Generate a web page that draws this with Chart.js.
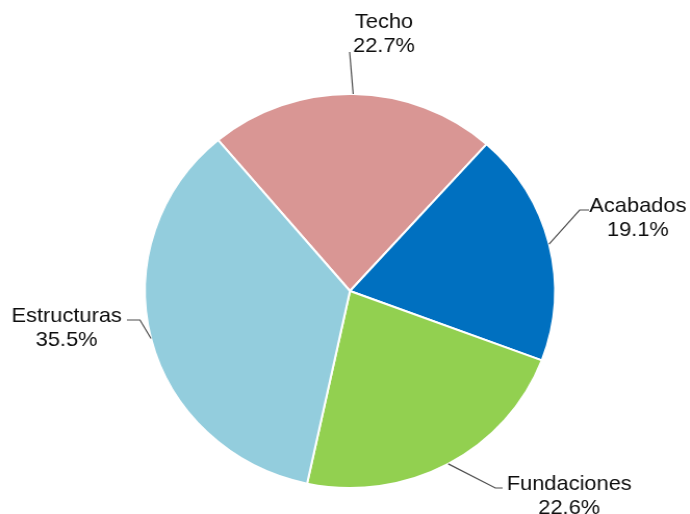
<!DOCTYPE html>
<html>
<head>
<meta charset="utf-8">
<script src="https://cdn.jsdelivr.net/npm/chart.js@4/dist/chart.umd.min.js"></script>
<style>
html,body{margin:0;padding:0;background:#fff;overflow:hidden;}
#wrap{width:690px;height:514px;position:relative;overflow:hidden;}
#c{position:absolute;left:0;top:0;transform:scaleX(1.0406);transform-origin:0 0;}
</style>
</head>
<body>
<div id="wrap"><canvas id="c" width="663" height="514"></canvas></div>
<script>
const categories = ["Techo", "Acabados", "Fundaciones", "Estructuras"];
const values = [22.7, 19.1, 22.6, 35.5];
const colors = ["#D99694", "#0070C0", "#92D050", "#93CDDD"];

// label layout (text center x, first baseline y, elbow point, line end point) in canvas coords
const labelLayout = [
  {tx: 369, ty: 28, elbow: null, end: [336, 52]},
  {tx: 613, ty: 212, elbow: [557, 210], end: [566, 210]},
  {tx: 547, ty: 490, elbow: [476, 488], end: [483, 488]},
  {tx: 64, ty: 322, elbow: [134.5, 320], end: [122, 320]}
];

const labelPlugin = {
  id: 'outLabels',
  afterDatasetsDraw(chart) {
    const ctx = chart.ctx;
    const meta = chart.getDatasetMeta(0);
    ctx.save();
    meta.data.forEach((arc, i) => {
      const p = arc.getProps(['x','y','startAngle','endAngle','outerRadius'], true);
      const mid = (p.startAngle + p.endAngle) / 2;
      const sx = p.x + Math.cos(mid) * p.outerRadius;
      const sy = p.y + Math.sin(mid) * p.outerRadius;
      const L = labelLayout[i];
      ctx.strokeStyle = '#4d4d4d';
      ctx.lineWidth = 1.2;
      ctx.beginPath();
      ctx.moveTo(sx, sy);
      if (L.elbow) ctx.lineTo(L.elbow[0], L.elbow[1]);
      ctx.lineTo(L.end[0], L.end[1]);
      ctx.stroke();
      ctx.fillStyle = '#0d0d0d';
      ctx.font = '21px "Liberation Sans", Arial, sans-serif';
      ctx.textAlign = 'center';
      ctx.textBaseline = 'alphabetic';
      ctx.fillText(categories[i], L.tx, L.ty);
      ctx.fillText(values[i].toFixed(1) + '%', L.tx, L.ty + 23.5);
    });
    ctx.restore();
  }
};

new Chart(document.getElementById('c'), {
  type: 'pie',
  data: {
    labels: categories,
    datasets: [{
      data: values,
      backgroundColor: colors,
      borderColor: '#ffffff',
      borderWidth: 2,
      radius: 197
    }]
  },
  options: {
    responsive: false,
    devicePixelRatio: 1,
    animation: false,
    rotation: -40,
    layout: {padding: {left: 139.3, right: 129.7, top: 94, bottom: 26}},
    plugins: {
      legend: {display: false},
      tooltip: {enabled: false}
    }
  },
  plugins: [labelPlugin]
});
</script>
</body>
</html>
